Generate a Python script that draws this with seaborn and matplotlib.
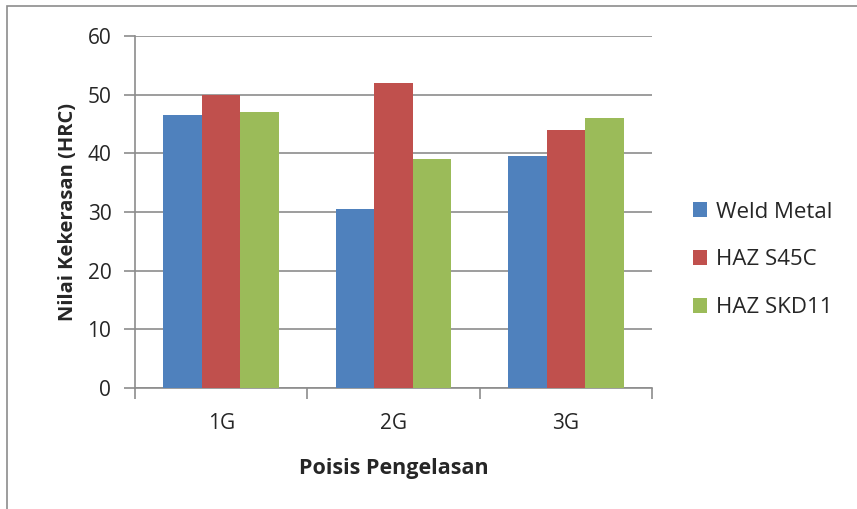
import pandas as pd
import seaborn as sns
import matplotlib.pyplot as plt
from matplotlib.patches import Rectangle

positions = ['1G', '2G', '3G']
series = ['Weld Metal', 'HAZ S45C', 'HAZ SKD11']
weld_metal = [46.5, 30.5, 39.5]
haz_s45c = [50, 52, 44]
haz_skd11 = [47, 39, 46]
colors = ['#4F81BD', '#C0504D', '#9BBB59']

df = pd.DataFrame({
    'posisi': positions * 3,
    'seri': [s for s in series for _ in positions],
    'nilai': weld_metal + haz_s45c + haz_skd11,
})

sns.set_style('white')
plt.rcParams['font.family'] = ['Open Sans', 'DejaVu Sans']

fig = plt.figure(figsize=(8.57, 5.09), dpi=100)
ax = fig.add_axes([0.1575, 0.2377, 0.6035, 0.6916])

sns.barplot(data=df, x='posisi', y='nilai', hue='seri', order=positions,
            hue_order=series, palette=colors, width=0.67, errorbar=None,
            edgecolor='none', saturation=1, ax=ax, zorder=3)

grid_c = '#8C8C8C'
ax.set_ylim(0, 60)
ax.set_xlim(-0.5, 2.5)
ax.set_yticks(range(0, 61, 10))
ax.yaxis.grid(True, color=grid_c, linewidth=1.2, zorder=0)
ax.set_axisbelow(True)
ax.set_xticks([-0.5, 0.5, 1.5, 2.5])
ax.set_xticklabels([])
ax.set_xticks([0, 1, 2], minor=True)
ax.set_xticklabels(positions, minor=True)
ax.tick_params(axis='x', which='major', length=8, width=1.2, color=grid_c, direction='out')
ax.tick_params(axis='x', which='minor', length=0, pad=18, labelsize=15)
ax.tick_params(axis='y', length=8, width=1.2, color=grid_c, direction='out', labelsize=15, pad=9)
ax.tick_params(bottom=True, left=True)

for side in ['top', 'right']:
    ax.spines[side].set_visible(False)
for side in ['left', 'bottom']:
    ax.spines[side].set_color(grid_c)
    ax.spines[side].set_linewidth(1.2)

ax.set_xlabel('Poisis Pengelasan', fontsize=15.5, fontweight='bold', labelpad=17)
ax.set_ylabel('Nilai Kekerasan (HRC)', fontsize=14.5, fontweight='bold', labelpad=7)

handles, labels = ax.get_legend_handles_labels()
ax.legend(handles, labels, loc='center left', bbox_to_anchor=(1.04, 0.364),
          frameon=False, fontsize=16, labelspacing=1.2,
          handlelength=0.65, handleheight=0.65, handletextpad=0.4)

fig.patches.append(Rectangle((0.008, -0.1), 1.2, 1.088, transform=fig.transFigure,
                             fill=False, edgecolor='#8C8C8C', linewidth=1.2))

fig.savefig('out.png', dpi=100)
